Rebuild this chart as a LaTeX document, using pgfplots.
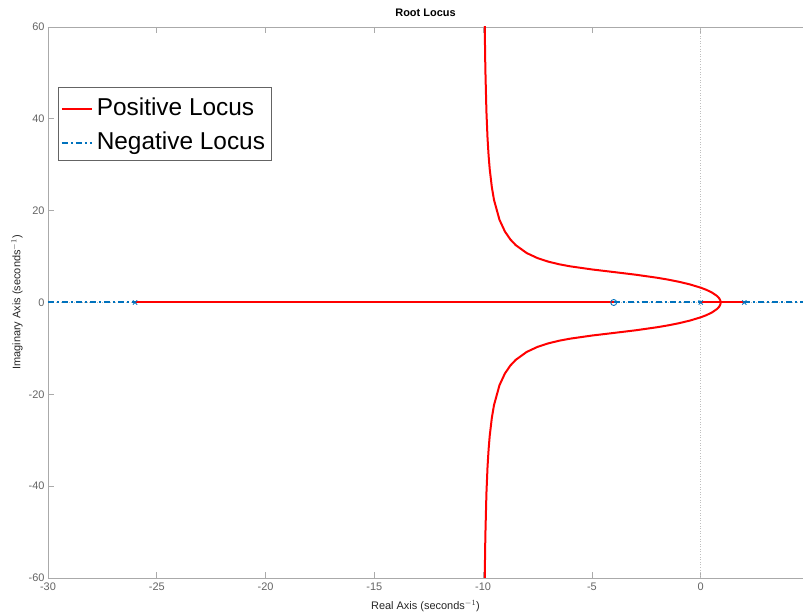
\documentclass[border=0pt]{standalone}
\usepackage{pgfplots}
\pgfplotsset{compat=1.18}
\usepackage{fontspec}
\setmainfont{Liberation Sans}
\definecolor{mblue}{RGB}{0,114,189}
\definecolor{axgray}{RGB}{170,170,170}
\definecolor{txtgray}{RGB}{100,100,100}
\begin{document}
\begin{tikzpicture}
\begin{axis}[
  at={(0,0)}, anchor=south west,
  scale only axis, width=755bp, height=551bp,
  xmin=-30, xmax=4.7, ymin=-60, ymax=60,
  xtick={-30,-25,...,0}, ytick={-60,-40,...,60},
  separate axis lines,
  axis x line*=box, axis y line*=left,
  axis line style={axgray, line width=0.8bp, -},
  tick style={axgray, line width=0.8bp},
  tick align=inside, major tick length=6bp,
  every tick label/.style={font=\fontsize{11}{13}\selectfont, text=txtgray},
  /pgf/number format/assume math mode=true,
  xticklabel style={yshift=-1bp},
  title={\textbf{Root Locus}},
  title style={at={(axis description cs:0.5,1)}, anchor=base, yshift=5bp, font=\fontsize{11}{13}\selectfont},
  xlabel={Real Axis (seconds$^{-1}$)},
  xlabel style={at={(axis description cs:0.5,0)}, anchor=center, yshift=-28bp, font=\fontsize{11}{13}\selectfont, text=black!85},
  ylabel={Imaginary Axis (seconds$^{-1}$)},
  ylabel style={at={(axis description cs:0,0.5)}, anchor=center, yshift=31bp, font=\fontsize{11}{13}\selectfont, text=black!85},
  legend style={at={(axis description cs:0.01325,0.891)}, anchor=north west,
    draw=txtgray, line width=0.6bp, font=\fontsize{24.5}{29}\selectfont,
    inner sep=2.5bp, row sep=0bp, column sep=0bp,
    nodes={text height=20bp, text depth=3bp, inner ysep=5.5bp, inner xsep=4bp}},
  legend cell align=left,
  legend image code/.code={\draw[#1] (-1bp,-2bp) -- (29bp,-2bp);},
  clip=true,
]
% zero lines
\addplot[forget plot, black!25, dotted, line width=0.6bp] coordinates {(0,-60) (0,60)};
\addplot[forget plot, black!25, dotted, line width=0.6bp] coordinates {(-30,0) (4.7,0)};
% positive locus
\addplot[red, line width=2bp] coordinates {(-26,0) (-4,0)};
\addlegendentry{Positive Locus}
\addplot[mblue, line width=2bp, dash pattern=on 6bp off 3bp on 2bp off 3bp] coordinates {(-30,0) (-26,0)};
\addlegendentry{Negative Locus}
\addplot[forget plot, mblue, line width=2bp, dash pattern=on 6bp off 3bp on 2bp off 3bp] coordinates {(-4,0) (0,0)};
\addplot[forget plot, mblue, line width=2bp, dash pattern=on 6bp off 3bp on 2bp off 3bp] coordinates {(2,0) (4.7,0)};
\addplot[forget plot, red, line width=2bp] coordinates {(0,0) (2,0)};
\addplot[forget plot, red, line width=2bp, line join=round] coordinates {
(0.917,0) (0.9,0.458) (0.85,0.900) (0.75,1.413) (0.5,2.212) (0.25,2.774) (0,3.225)
(-0.5,3.942) (-1,4.509) (-1.5,4.981) (-2,5.385) (-3,6.059) (-4,6.633) (-5,7.197)
(-6,7.874) (-6.5,8.317) (-7,8.888) (-7.5,9.662) (-8,10.77) (-8.5,12.48) (-8.75,13.73)
(-9,15.46) (-9.25,18.01) (-9.5,22.31) (-9.6,25.07) (-9.7,29.11) (-9.75,31.98)
(-9.8,35.87) (-9.85,41.54) (-9.9,51.04) (-9.925,59.03) (-9.95,72.42)};
\addplot[forget plot, red, line width=2bp, line join=round] coordinates {
(0.917,0) (0.9,-0.458) (0.85,-0.900) (0.75,-1.413) (0.5,-2.212) (0.25,-2.774) (0,-3.225)
(-0.5,-3.942) (-1,-4.509) (-1.5,-4.981) (-2,-5.385) (-3,-6.059) (-4,-6.633) (-5,-7.197)
(-6,-7.874) (-6.5,-8.317) (-7,-8.888) (-7.5,-9.662) (-8,-10.77) (-8.5,-12.48) (-8.75,-13.73)
(-9,-15.46) (-9.25,-18.01) (-9.5,-22.31) (-9.6,-25.07) (-9.7,-29.11) (-9.75,-31.98)
(-9.8,-35.87) (-9.85,-41.54) (-9.9,-51.04) (-9.925,-59.03) (-9.95,-72.42)};
% poles and zero
\addplot[forget plot, only marks, mark=x, mark size=3bp, mblue, line width=0.9bp] coordinates {(-26,0) (0,0) (2,0)};
\addplot[forget plot, only marks, mark=o, mark size=3bp, mblue, line width=0.9bp] coordinates {(-4,0)};
\end{axis}
\pgfresetboundingbox
\path[use as bounding box] (-48bp,-37bp) rectangle (755bp,578bp);
\end{tikzpicture}
\end{document}
